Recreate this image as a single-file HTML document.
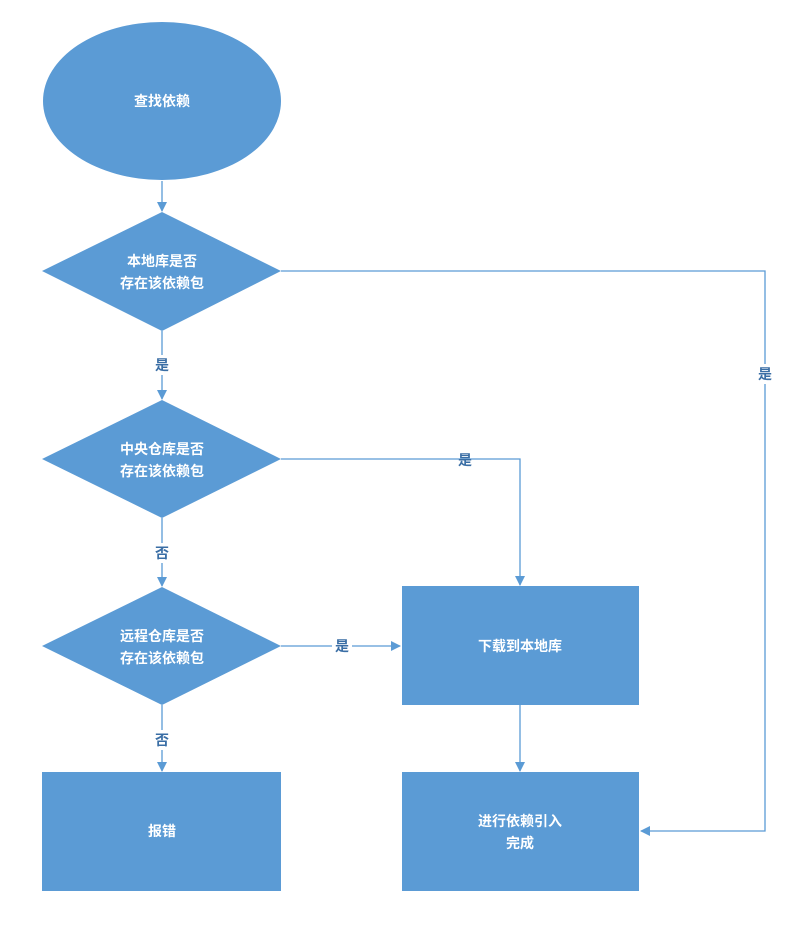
<!DOCTYPE html>
<html><head><meta charset="utf-8"><style>
html,body{margin:0;padding:0;background:#fff;}
svg text{font-family:"Liberation Sans","Noto Sans CJK SC",sans-serif;font-weight:bold;}
</style></head><body>
<svg width="795" height="931" viewBox="0 0 795 931" xmlns="http://www.w3.org/2000/svg">
<defs><marker id="a" markerWidth="10" markerHeight="10" refX="9" refY="5" orient="auto" markerUnits="userSpaceOnUse"><path d="M0,0 L10,5 L0,10 z" fill="#5b9bd5"/></marker></defs>
<g stroke="#5b9bd5" stroke-width="1.3" fill="none">
<line x1="162" y1="181" x2="162" y2="211" marker-end="url(#a)"/>
<line x1="162" y1="331" x2="162" y2="399" marker-end="url(#a)"/>
<line x1="162" y1="518" x2="162" y2="586" marker-end="url(#a)"/>
<line x1="162" y1="705" x2="162" y2="771" marker-end="url(#a)"/>
<polyline points="281,271 765,271 765,831 641,831" marker-end="url(#a)"/>
<polyline points="281,459 520,459 520,585" marker-end="url(#a)"/>
<line x1="281" y1="646" x2="400" y2="646" marker-end="url(#a)"/>
<line x1="520" y1="705" x2="520" y2="771" marker-end="url(#a)"/>
</g>
<g fill="#5b9bd5">
<ellipse cx="162" cy="101" rx="119" ry="79"/>
<polygon points="162,212 281,271 162,331 42,271"/>
<polygon points="162,400 281,459 162,518 42,459"/>
<polygon points="162,587 281,646 162,705 42,646"/>
<rect x="402" y="586" width="237" height="119"/>
<rect x="402" y="772" width="237" height="119"/>
<rect x="42" y="772" width="239" height="119"/>
</g>
<g fill="#fff" font-size="14" text-anchor="middle">
<text x="162" y="106">查找依赖</text>
<text x="162" y="266">本地库是否</text><text x="162" y="288">存在该依赖包</text>
<text x="162" y="454">中央仓库是否</text><text x="162" y="476">存在该依赖包</text>
<text x="162" y="641">远程仓库是否</text><text x="162" y="663">存在该依赖包</text>
<text x="520" y="651">下载到本地库</text>
<text x="520" y="826">进行依赖引入</text><text x="520" y="848">完成</text>
<text x="162" y="836">报错</text>
</g>
<g font-size="14" text-anchor="middle" fill="#3a6ea5">
<rect x="152" y="355" width="20" height="20" fill="#fff"/><text x="162" y="370">是</text>
<rect x="152" y="543" width="20" height="20" fill="#fff"/><text x="162" y="558">否</text>
<rect x="152" y="730" width="20" height="20" fill="#fff"/><text x="162" y="745">否</text>
<rect x="755" y="364" width="20" height="20" fill="#fff"/><text x="765" y="379">是</text>
<text x="465" y="465">是</text>
<rect x="332" y="637" width="20" height="18" fill="#fff"/><text x="342" y="651">是</text>
</g>
</svg>
</body></html>
